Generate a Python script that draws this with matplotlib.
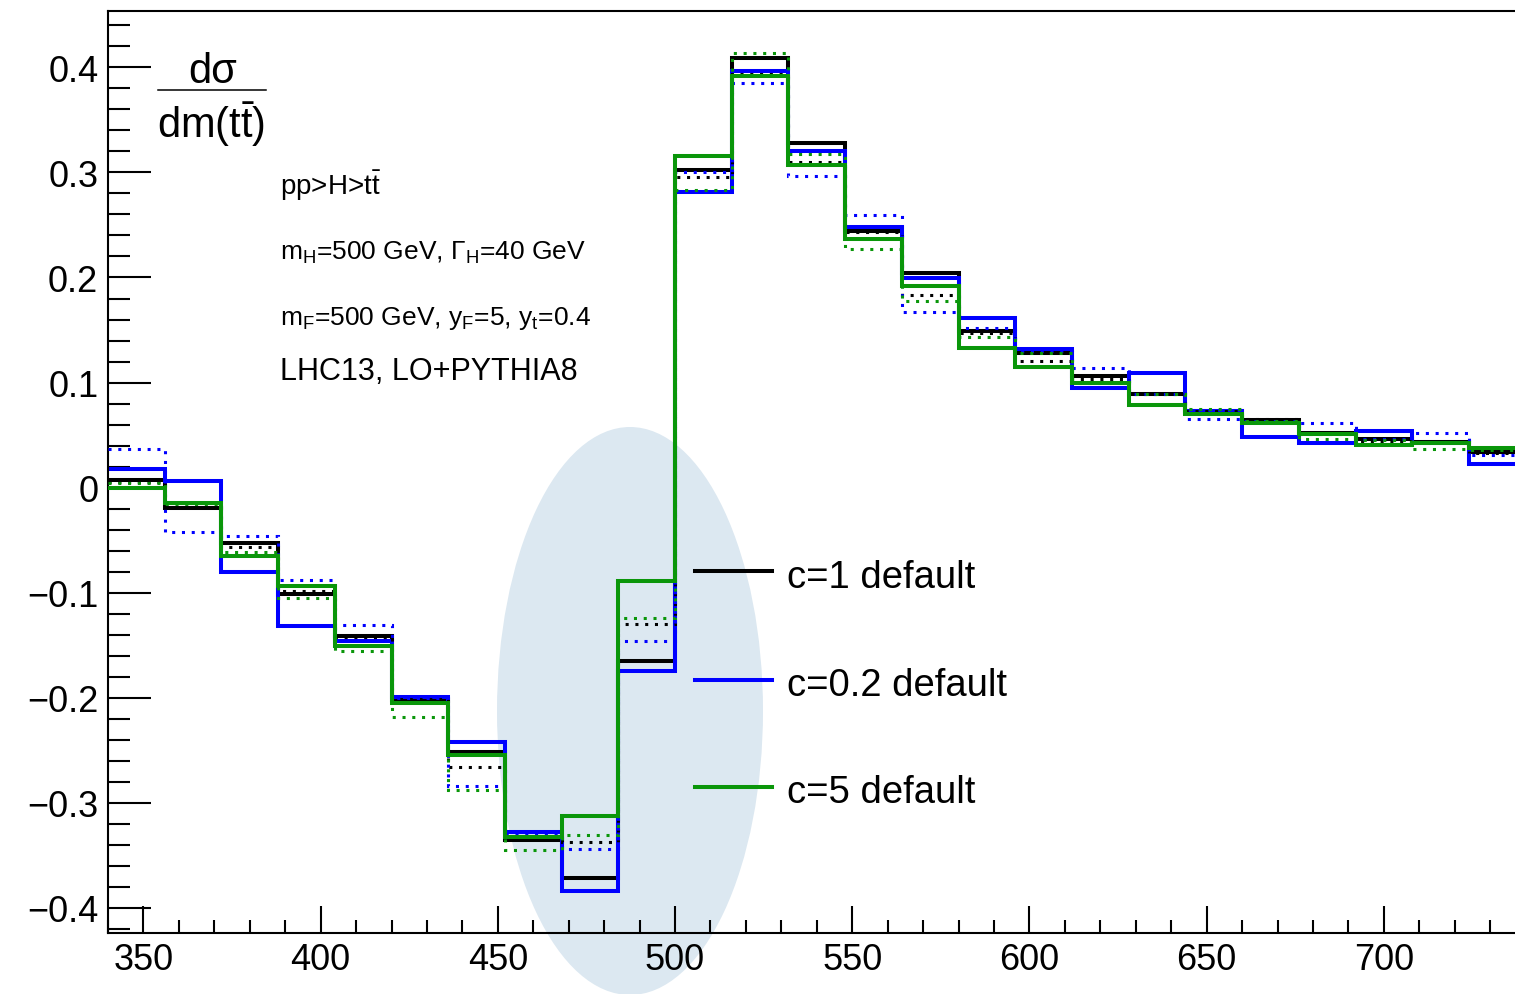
import numpy as np
import matplotlib
matplotlib.use("Agg")
import matplotlib.pyplot as plt
from matplotlib.patches import Ellipse
from matplotlib.lines import Line2D
from matplotlib.ticker import MultipleLocator, FuncFormatter

plt.rcParams['font.family'] = ['Liberation Sans', 'DejaVu Sans']
plt.rcParams['mathtext.fontset'] = 'custom'
plt.rcParams['mathtext.rm'] = 'Liberation Sans'
plt.rcParams['mathtext.it'] = 'Liberation Sans:italic'
plt.rcParams['mathtext.bf'] = 'Liberation Sans:bold'

# ---- data ----
edges = np.arange(340, 741, 16)  # 25 bins of 16 GeV

c1_default = [0.007, -0.019, -0.053, -0.1016, -0.1407, -0.2016, -0.2514, -0.3356, -0.3714, -0.1645,
              0.302, 0.4086, 0.3279, 0.2444, 0.2041, 0.1492, 0.128, 0.1063, 0.0889, 0.073,
              0.064, 0.0517, 0.046, 0.043, 0.034]
c02_default = [0.0181, 0.0063, -0.080, -0.132, -0.146, -0.199, -0.242, -0.3276, -0.384, -0.1747,
               0.281, 0.3965, 0.3203, 0.2476, 0.1996, 0.1619, 0.132, 0.0952, 0.1095, 0.073,
               0.0486, 0.0429, 0.0539, 0.0429, 0.0222]
c5_default = [0.000, -0.0143, -0.065, -0.0937, -0.151, -0.205, -0.254, -0.332, -0.3128, -0.089,
              0.3152, 0.392, 0.307, 0.2371, 0.192, 0.1333, 0.1152, 0.0995, 0.0784, 0.0698,
              0.0619, 0.051, 0.0403, 0.0425, 0.038]
c1_alt = [0.005, -0.018, -0.056, -0.098, -0.142, -0.201, -0.266, -0.334, -0.337, -0.130,
          0.296, 0.394, 0.3095, 0.2429, 0.1834, 0.147, 0.1206, 0.103, 0.0889, 0.073,
          0.0657, 0.051, 0.0444, 0.043, 0.0333]
c02_alt = [0.0365, -0.042, -0.046, -0.0876, -0.131, -0.200, -0.284, -0.330, -0.344, -0.146,
           0.300, 0.3848, 0.2968, 0.2593, 0.1672, 0.1524, 0.130, 0.1143, 0.0889, 0.065,
           0.063, 0.0619, 0.046, 0.0524, 0.0308]
c5_alt = [0.004, -0.016, -0.061, -0.105, -0.155, -0.218, -0.288, -0.345, -0.331, -0.124,
          0.2834, 0.4136, 0.3174, 0.227, 0.1777, 0.1429, 0.1286, 0.0993, 0.0889, 0.0752,
          0.0634, 0.0467, 0.045, 0.0365, 0.036]

legend_labels = ["c=1 default", "c=0.2 default", "c=5 default"]
xtick_vals = [350, 400, 450, 500, 550, 600, 650, 700]

# ---- figure ----
W, H = 1515, 995
fig = plt.figure(figsize=(W / 100, H / 100), dpi=100)
fig.patch.set_facecolor('white')

def fx(px):
    return px / W

def fy(py):
    return 1 - py / H

ax = fig.add_axes([fx(108), fy(934), 1 - fx(108), fy(12) - fy(934)])
ax.patch.set_visible(False)

BLACK = '#000000'
BLUE = '#0000ff'
GREEN = '#0a960a'
LW = 2.9
dot = (0, (1, 2.2))

ax.stairs(c1_alt, edges, baseline=None, color=BLACK, lw=2.2, linestyle=dot, zorder=3)
ax.stairs(c02_alt, edges, baseline=None, color=BLUE, lw=2.2, linestyle=dot, zorder=3)
ax.stairs(c5_alt, edges, baseline=None, color=GREEN, lw=2.2, linestyle=dot, zorder=3)
ax.stairs(c1_default, edges, baseline=None, color=BLACK, lw=LW, zorder=2)
ax.stairs(c02_default, edges, baseline=None, color=BLUE, lw=LW, zorder=2.1)
ax.stairs(c5_default, edges, baseline=None, color=GREEN, lw=LW, zorder=3.5)

ax.set_xlim(340, 737)
ax.set_ylim(-0.4238, 0.4536)

ax.set_xticks(xtick_vals)
ax.xaxis.set_minor_locator(MultipleLocator(10))
ax.yaxis.set_major_locator(MultipleLocator(0.1))
ax.yaxis.set_minor_locator(MultipleLocator(0.02))

def yfmt(v, pos):
    if abs(v) < 1e-9:
        return '0'
    return f'{v:.1f}'.replace('-', '\u2212')

ax.yaxis.set_major_formatter(FuncFormatter(yfmt))
ax.tick_params(axis='both', which='both', direction='in', width=1.5, colors='black',
               top=False, right=False, labelsize=26)
ax.tick_params(axis='y', which='major', length=31, pad=7)
ax.tick_params(axis='y', which='minor', length=16)
ax.tick_params(axis='x', which='major', length=19.5, pad=6.5)
ax.tick_params(axis='x', which='minor', length=9.5)

for s in ['left', 'bottom', 'top']:
    ax.spines[s].set_linewidth(1.5)
ax.spines['right'].set_visible(False)

# highlight ellipse (behind axes content)
ell = Ellipse((fx(630), fy(712)), width=266 / W, height=568 / H,
              transform=fig.transFigure, facecolor='#dce8f1', edgecolor='none', zorder=-1)
fig.add_artist(ell)

# y-axis title as fraction
fig.text(fx(213), fy(83), 'd\u03c3', fontsize=30, ha='center', va='baseline')
fig.add_artist(Line2D([fx(158), fx(266)], [fy(91), fy(91)], color='black', lw=1.1))
fig.text(fx(157), fy(138), r'dm(t$\bar{\mathrm{t}}$)', fontsize=30, ha='left', va='baseline')

# annotations
fig.text(fx(280), fy(195), r'pp>H>t$\bar{\mathrm{t}}$', fontsize=20, ha='left', va='baseline')
fig.text(fx(280), fy(260), r'm$_{\mathrm{H}}$=500 GeV, $\mathrm{\Gamma}_{\mathrm{H}}$=40 GeV',
         fontsize=19, ha='left', va='baseline')
fig.text(fx(280), fy(325), r'm$_{\mathrm{F}}$=500 GeV, y$_{\mathrm{F}}$=5, y$_{\mathrm{t}}$=0.4',
         fontsize=19, ha='left', va='baseline')
fig.text(fx(280), fy(380), 'LHC13, LO+PYTHIA8', fontsize=22, ha='left', va='baseline')

# legend
leg_y = [572, 681, 788]
leg_base = [588, 696, 803]
for lab, col, yl, yb in zip(legend_labels, [BLACK, BLUE, GREEN], leg_y, leg_base):
    fig.add_artist(Line2D([fx(695), fx(772)], [fy(yl), fy(yl)], color=col, lw=LW))
    fig.text(fx(787), fy(yb), lab, fontsize=27.5, ha='left', va='baseline')

fig.savefig('out.png', dpi=100)
